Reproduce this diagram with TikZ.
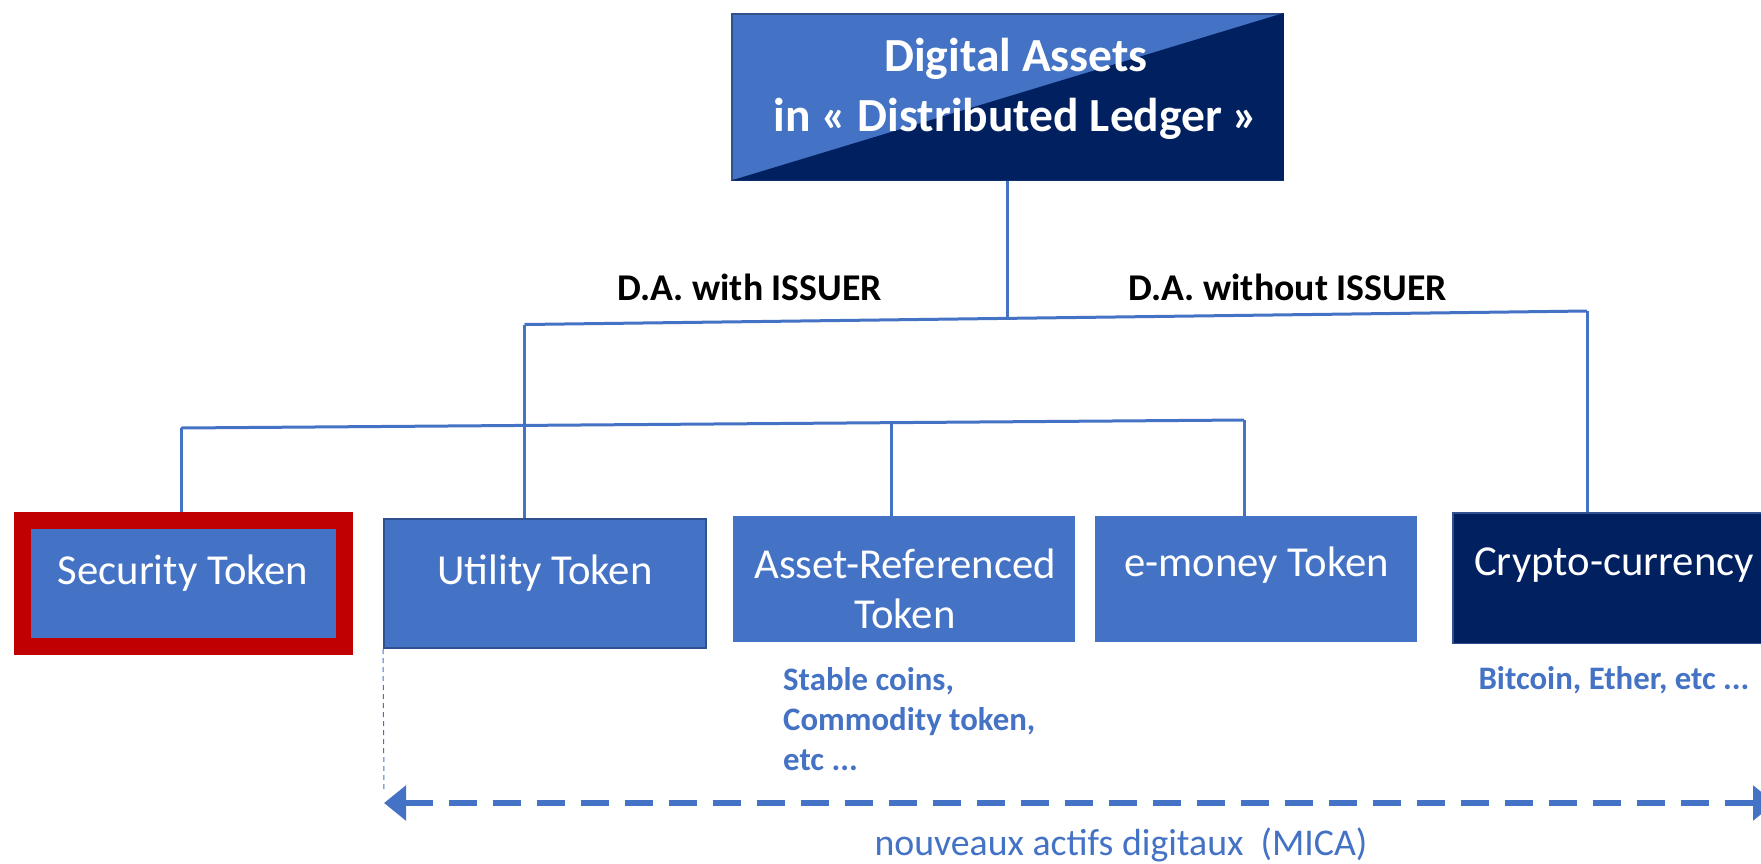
\documentclass[tikz,border=0pt]{standalone}
\usepackage{fontspec}
\setmainfont{Carlito}
\usetikzlibrary{arrows.meta}
\definecolor{lb}{HTML}{4472C4}
\definecolor{navy}{HTML}{002060}
\definecolor{dred}{HTML}{C00000}
\definecolor{bord}{HTML}{2F528F}
\begin{document}
\begin{tikzpicture}[x=1pt,y=-1pt,
  conn/.style={draw=lb, line width=3pt},
  box/.style={rectangle, inner sep=0pt, fill=lb},
  boxtxt/.style={text=white, font=\fontsize{42.7}{50.5}\selectfont, inner sep=0pt, align=center},
  lab/.style={font=\bfseries\fontsize{37.8}{44}\selectfont, inner sep=0pt},
  note/.style={text=lb, font=\bfseries\fontsize{32.8}{40}\selectfont, inner sep=0pt, align=left}]
\useasboundingbox (0,0) rectangle (1761,863);
\clip (0,0) rectangle (1761,863);
\fill[white] (0,0) rectangle (1761,863);

% top box
\node[box, draw=bord, line width=1.5pt, minimum width=551pt, minimum height=166pt] (top) at (1007.5,96.75) {};
\fill[navy] (top.south west) -- (top.north east) -- (top.south east) -- cycle;
\node[text=white, font=\bfseries\fontsize{47.5}{60}\selectfont, align=center, inner sep=0pt] (title) at (1016,89) {Digital Assets\\ in « Distributed Ledger »};

% boxes
\node[box, draw=dred, line width=17pt, minimum width=322pt, minimum height=126pt] (sec) at (183,583.5) {};
\node[box, draw=bord, line width=2pt, minimum width=322pt, minimum height=129pt] (util) at (545,583.5) {};
\node[box, minimum width=342pt, minimum height=126.5pt] (ar) at (904,579) {};
\node[box, minimum width=322pt, minimum height=126.5pt] (em) at (1256,579) {};
\node[box, fill=navy, draw=bord, line width=1.5pt, minimum width=317pt, minimum height=130.5pt] (crypto) at (1611.5,578) {};

\node[boxtxt] (tsec) at (183,573.5) {Security Token};
\node[boxtxt] (tutil) at (545,573.5) {Utility Token};
\node[boxtxt] (tar) at (905,589) {Asset-Referenced\\Token};
\node[boxtxt] (tem) at (1256.7,565) {e-money Token};
\node[boxtxt] (tcr) at (1614,565) {Crypto-currency};

% connectors
\coordinate (h1l) at (524.5,324.5);
\coordinate (h1r) at (1587,311);
\coordinate (h2l) at (181,428);
\coordinate (h2r) at (1244,420);
\coordinate (j0) at (1007.5,318.4);
\coordinate (j2) at (891.7,422.7);

\draw[conn] (top.south) -- (j0);
\draw[conn] (h1l) -- (h1r);
\draw[conn] (h1l) -- (h1l |- util.north);
\draw[conn] (h1r) -- (h1r |- crypto.north);
\draw[conn] (h2l) -- (h2r);
\draw[conn] (h2l) -- (h2l |- sec.north);
\draw[conn] (j2) -- (j2 |- ar.north);
\draw[conn] (h2r) -- (h2r |- em.north);

% labels
\node[lab] (lw) at (749.7,287.5) {D.A. with ISSUER};
\node[lab] (lwo) at (1287.6,287.5) {D.A. without ISSUER};
\node[note, anchor=west] (notes) at (783,719.5) {Stable coins,\\Commodity token,\\etc ...};
\node[note] (notec) at (1614,680.6) {Bitcoin, Ether, etc ...};

% MICA range
\coordinate (dv) at (384,792);
\draw[lb, line width=1pt, dash pattern=on 5pt off 4pt] (util.south west) -- (dv);
\coordinate (arrL) at (384,803);
\coordinate (arrR) at (1775,803);
\draw[draw=lb, line width=6pt, dash pattern=on 28pt off 16pt, {Triangle[length=22pt,width=34pt]}-{Triangle[length=22pt,width=34pt]}] (arrL) -- (arrR);
\node[text=lb, font=\fontsize{37.8}{44}\selectfont, inner sep=0pt] (mica) at (1121,844.6) {nouveaux actifs digitaux\ \ (MICA)};
\end{tikzpicture}
\end{document}
